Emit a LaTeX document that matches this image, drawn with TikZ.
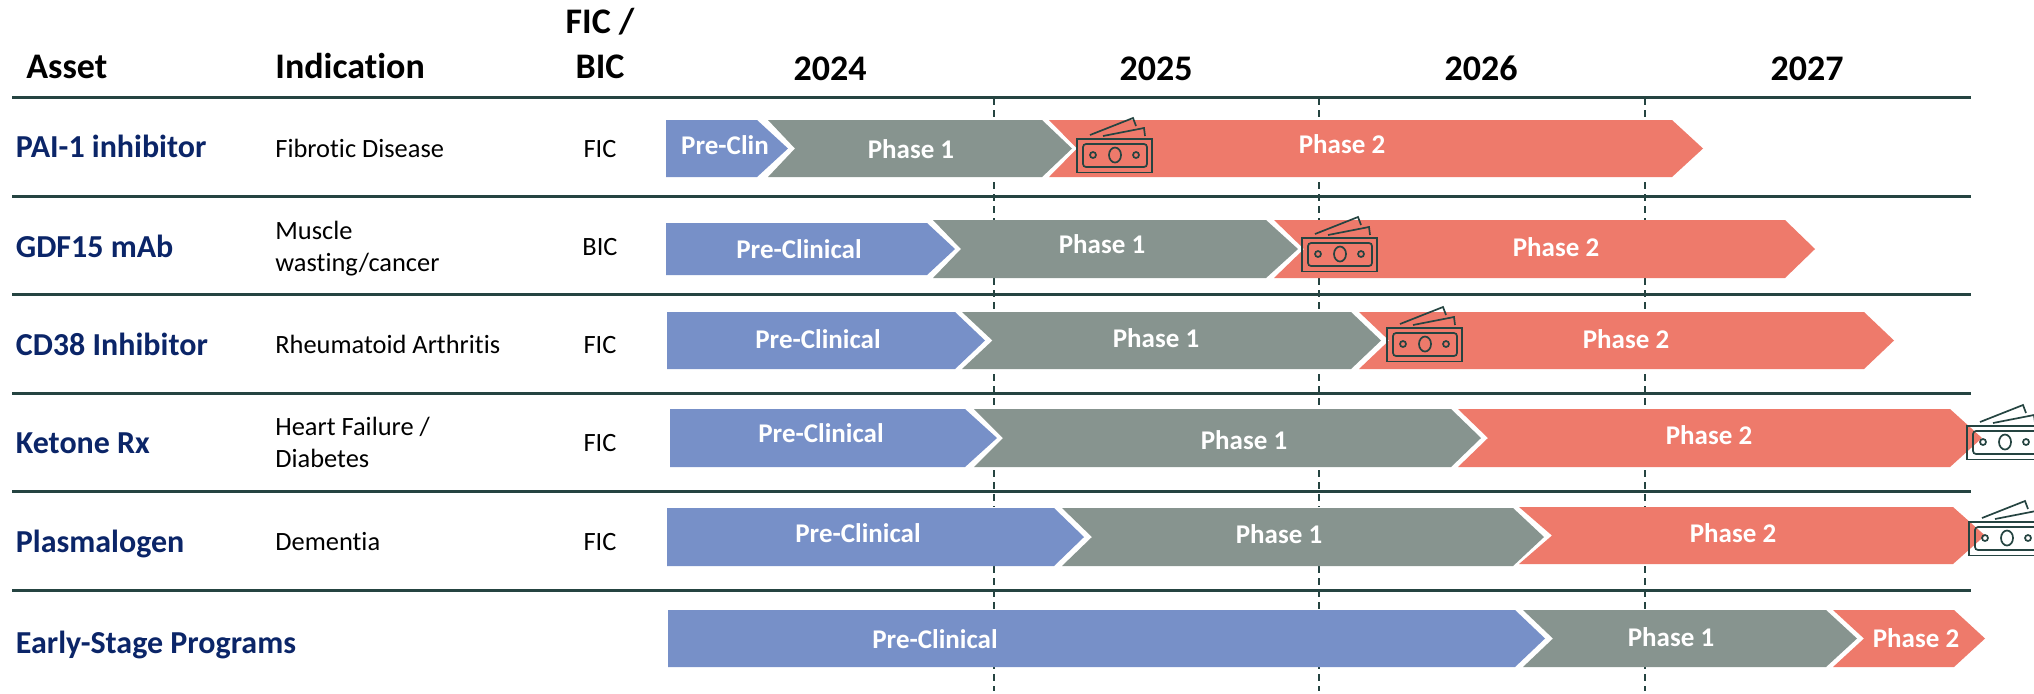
\documentclass[tikz,border=0pt]{standalone}
\usepackage{fontspec}
\setmainfont{Carlito}[Ligatures=NoCommon]
\definecolor{preblue}{HTML}{7790C8}
\definecolor{onegrey}{HTML}{87948F}
\definecolor{twored}{HTML}{EE7A6B}
\definecolor{rulegreen}{HTML}{254441}
\definecolor{assetblue}{HTML}{0B2568}
\tikzset{
	headtext/.style={anchor=base west,inner sep=0pt,font=\bfseries\fontsize{18}{20}\selectfont},
	yeartext/.style={anchor=base,inner sep=0pt,font=\bfseries\fontsize{18}{20}\selectfont},
	assettext/.style={anchor=base west,inner sep=0pt,text=assetblue,font=\bfseries\fontsize{16}{18}\selectfont},
	indictext/.style={anchor=base west,inner sep=0pt,font=\fontsize{13.2}{16}\selectfont},
	fictext/.style={anchor=base,inner sep=0pt,font=\fontsize{13.2}{16}\selectfont},
	phasetext/.style={anchor=base,inner sep=0pt,text=white,font=\bfseries\fontsize{13.5}{16}\selectfont},
	billline/.style={rulegreen,line width=0.85pt},
}
% left end is straight
\newcommand{\homebar}[6]{\fill[#1] (#2,#5) -- (#3,#5) -- (#4,{(#5+#6)/2}) -- (#3,#6) -- (#2,#6) -- cycle;}
% left end has a notch
\newcommand{\chevbar}[7]{\fill[#1] (#2,#6) -- (#4,#6) -- (#5,{(#6+#7)/2}) -- (#4,#7) -- (#2,#7) -- (#3,{(#6+#7)/2}) -- cycle;}
% bank notes, given by the top left corner of the front note
\newcommand{\billicon}[2]{
	\begin{scope}[shift={(#1,#2)}]
		\draw[billline] (0,0) rectangle (75,33.5);
		\draw[billline,rounded corners=1.5pt] (6,5) rectangle (70,28);
		\draw[billline] (16,16) circle(3);
		\draw[billline] (59,16) circle(3);
		\draw[billline] (38,16) ellipse(6 and 7.5);
		\draw[billline] (13,-4) -- (56,-21) -- (59,-13);
		\draw[billline] (26,-3) -- (67,-11) -- (68,-3);
	\end{scope}
}
\begin{document}
\begin{tikzpicture}[x=0.5pt,y=-0.5pt]
		\clip (0,0) rectangle (2034,693);

		% year dividers
		\foreach \xdiv in {994,1319,1645}
			\draw[rulegreen,line width=1.4pt,dash pattern=on 3.5pt off 2.5pt] (\xdiv,98) -- (\xdiv,691);
		% row rules
		\foreach \yrule in {97,196,294,393,491,590}
			\draw[rulegreen,line width=1.5pt] (12,\yrule) -- (1971,\yrule);
		% dividers stay hidden in the gaps between bars
		\foreach \ytop/\ybot in {120/177,220/278,312/369,409/467,507/566,610/667}
			\fill[white] (666,\ytop) rectangle (1985,\ybot);

		\node[headtext] (assethead) at (26,78) {Asset};
		\node[headtext] (indichead) at (275,78) {Indication};
		\node[yeartext] (fichead) at (600,33) {FIC /};
		\node[yeartext] (bichead) at (600,78) {BIC};
		\node[yeartext] (year2024) at (830,80) {2024};
		\node[yeartext] (year2025) at (1156,80) {2025};
		\node[yeartext] (year2026) at (1481,80) {2026};
		\node[yeartext] (year2027) at (1807,80) {2027};

		\node[assettext] (pai) at (15.5,157) {PAI-1 inhibitor};
		\node[assettext] (gdf) at (15.5,257) {GDF15 mAb};
		\node[assettext] (cd) at (15.5,355) {CD38 Inhibitor};
		\node[assettext] (ketone) at (15.5,453) {Ketone Rx};
		\node[assettext] (plasma) at (15.5,552) {Plasmalogen};
		\node[assettext] (early) at (15.5,653) {Early-Stage Programs};

		\node[indictext] (paiind) at (275,157) {Fibrotic Disease};
		\node[indictext] (gdfinda) at (275,239) {Muscle};
		\node[indictext] (gdfindb) at (275,271) {wasting/cancer};
		\node[indictext] (cdind) at (275,353) {Rheumatoid Arthritis};
		\node[indictext] (ketoneinda) at (275,435) {Heart Failure /};
		\node[indictext] (ketoneindb) at (275,467) {Diabetes};
		\node[indictext] (plasmaind) at (275,550) {Dementia};

		\node[fictext] (paific) at (600,157) {FIC};
		\node[fictext] (gdfbic) at (600,255) {BIC};
		\node[fictext] (cdfic) at (600,353) {FIC};
		\node[fictext] (ketonefic) at (600,451) {FIC};
		\node[fictext] (plasmafic) at (600,550) {FIC};

		% PAI-1
		\homebar{preblue}{666}{757}{788}{120}{177}
		\chevbar{twored}{1049}{1077}{1672}{1703}{120}{177}
		\chevbar{onegrey}{768}{795}{1042}{1072}{120}{177}
		\node[phasetext] at (725,154) {Pre-Clin};
		\node[phasetext] at (911,158) {Phase 1};
		\node[phasetext] at (1342,153) {Phase 2};
		\billicon{1077}{139}

		% GDF15
		\homebar{preblue}{666}{927}{955}{223}{275}
		\chevbar{onegrey}{933}{961}{1266}{1298}{220}{278}
		\chevbar{twored}{1274}{1304}{1785}{1815}{220}{278}
		\node[phasetext] at (799,258) {Pre-Clinical};
		\node[phasetext] at (1102,253) {Phase 1};
		\node[phasetext] at (1556,256) {Phase 2};
		\billicon{1302}{238}

		% CD38
		\homebar{preblue}{667}{955}{985}{312}{369}
		\chevbar{onegrey}{962}{992.5}{1351}{1381}{312}{369}
		\chevbar{twored}{1359}{1389}{1864}{1894}{312}{369}
		\node[phasetext] at (818,348.5) {Pre-Clinical};
		\node[phasetext] at (1156,347) {Phase 1};
		\node[phasetext] at (1626,348) {Phase 2};
		\billicon{1387}{328}

		% Ketone
		\homebar{preblue}{670}{965}{997}{409}{467}
		\chevbar{onegrey}{974}{1003}{1451}{1481}{409}{467}
		\chevbar{twored}{1458}{1488}{1950}{1982}{409}{467}
		\node[phasetext] at (821,442) {Pre-Clinical};
		\node[phasetext] at (1244,449) {Phase 1};
		\node[phasetext] at (1709,444) {Phase 2};
		\billicon{1967}{426}

		% Plasmalogen
		\homebar{preblue}{667}{1054}{1084}{508}{566}
		\chevbar{onegrey}{1062}{1092}{1513}{1544}{508}{566}
		\chevbar{twored}{1519}{1552}{1953}{1985}{507}{564}
		\node[phasetext] at (858,542) {Pre-Clinical};
		\node[phasetext] at (1279,543) {Phase 1};
		\node[phasetext] at (1733,542) {Phase 2};
		\billicon{1969}{522}

		% Early-stage
		\homebar{preblue}{668}{1515}{1545}{610}{667}
		\chevbar{onegrey}{1523}{1553}{1826}{1857}{610}{667}
		\chevbar{twored}{1833}{1864}{1954}{1985}{610}{667}
		\node[phasetext] at (935,648) {Pre-Clinical};
		\node[phasetext] at (1671,646) {Phase 1};
		\node[phasetext] at (1916,647) {Phase 2};
		\end{tikzpicture}
\end{document}
